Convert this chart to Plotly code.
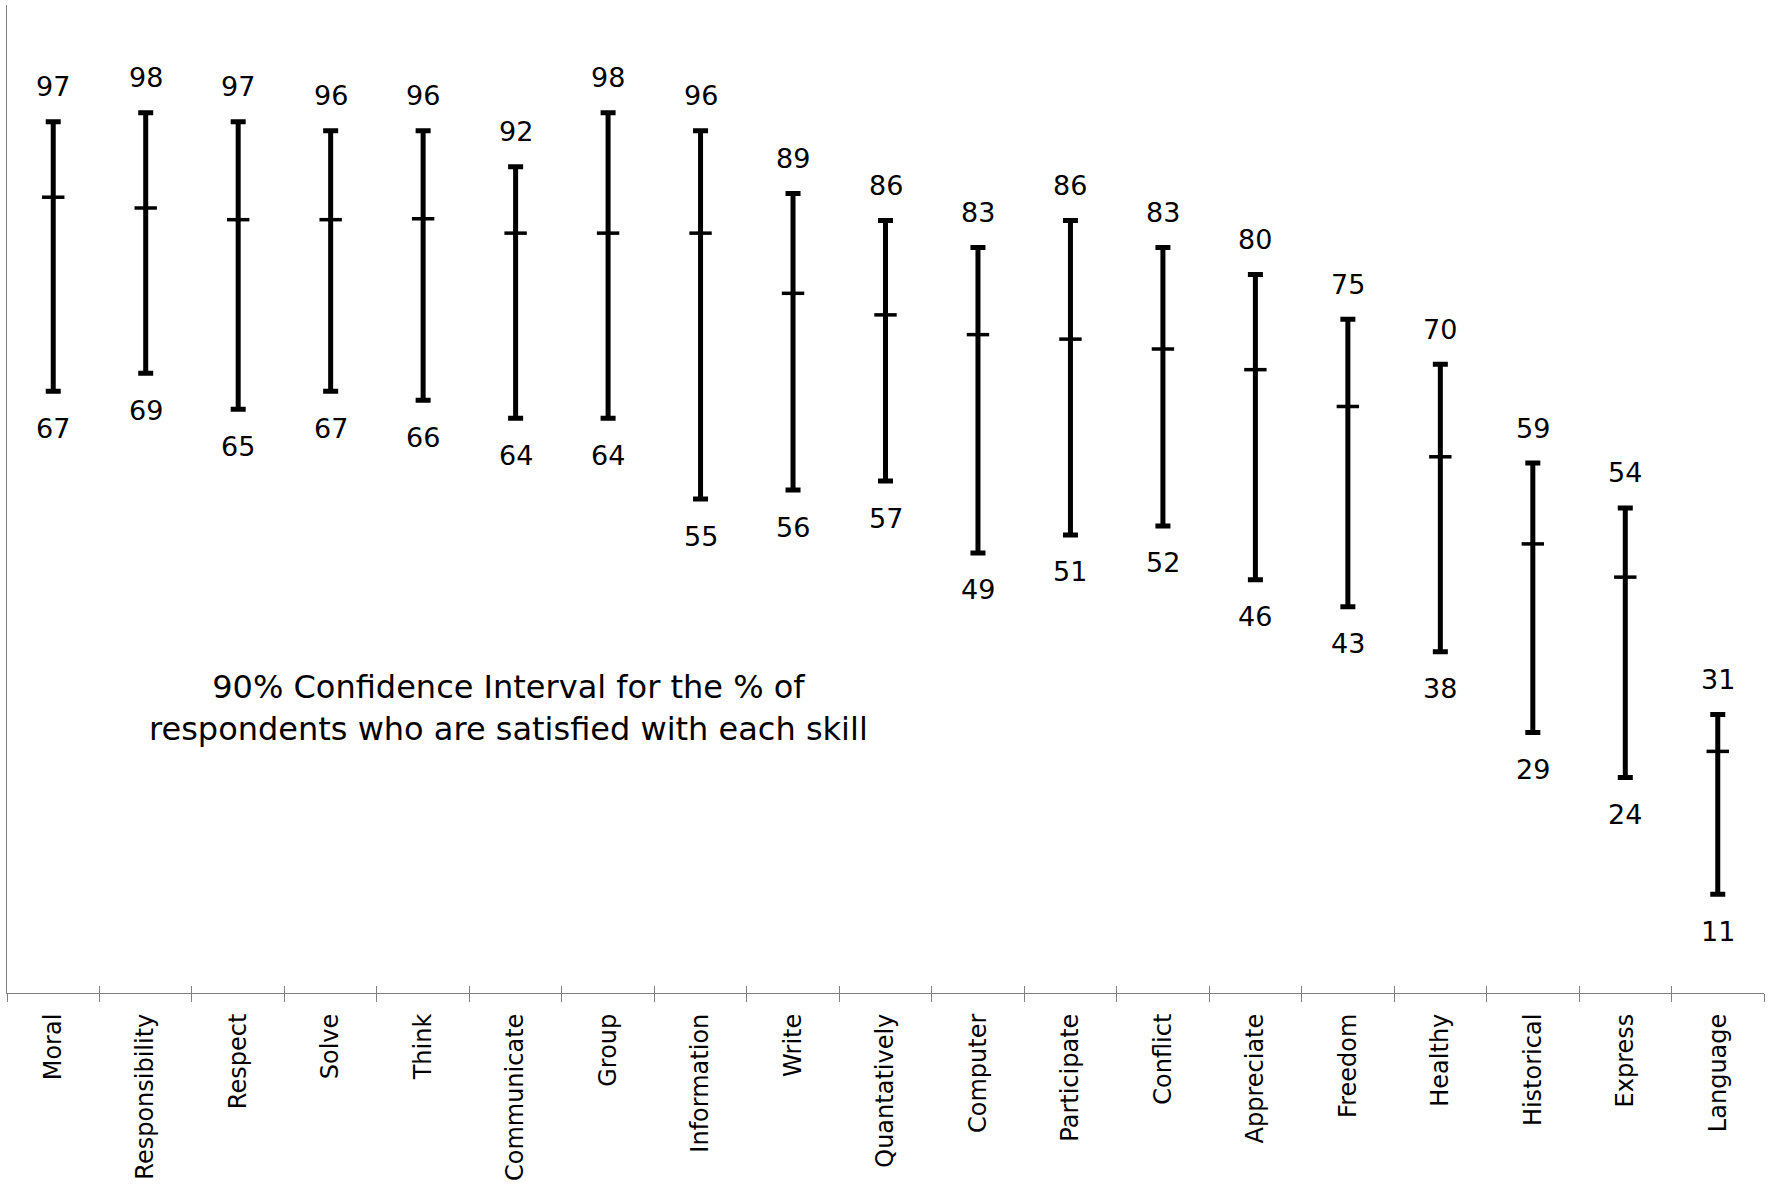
import plotly.graph_objects as go

# Skills, ordered as on the axis
skills = ["Moral", "Responsibility", "Respect", "Solve", "Think", "Communicate",
          "Group", "Information", "Write", "Quantatively", "Computer", "Participate",
          "Conflict", "Appreciate", "Freedom", "Healthy", "Historical", "Express",
          "Language"]

# 90% confidence interval bounds (% satisfied)
upper = [97, 98, 97, 96, 96, 92, 98, 96, 89, 86, 83, 86, 83, 80, 75, 70, 59, 54, 31]
lower = [67, 69, 65, 67, 66, 64, 64, 55, 56, 57, 49, 51, 52, 46, 43, 38, 29, 24, 11]

# Point estimate marked on each interval
estimate = [88.6, 87.4, 86.1, 86.1, 86.2, 84.6, 84.6, 84.6, 77.9, 75.5, 73.3, 72.8,
            71.7, 69.4, 65.3, 59.7, 50.0, 46.3, 26.9]

FONT = "Verdana, 'DejaVu Sans', sans-serif"
AXIS_GREY = "#7f7f7f"

err_plus = [u - e for u, e in zip(upper, estimate)]
err_minus = [e - l for e, l in zip(estimate, lower)]

fig = go.Figure()

fig.add_trace(go.Scatter(
    x=skills, y=estimate, mode="markers",
    marker=dict(symbol="line-ew", size=16, color="black",
                line=dict(color="black", width=3.5)),
    error_y=dict(type="data", symmetric=False, array=err_plus,
                 arrayminus=err_minus, color="black", thickness=5, width=7.5),
    showlegend=False, hoverinfo="skip",
))

# Invisible trace carrying the overlay axis that draws the upward half of the ticks
fig.add_trace(go.Scatter(
    x=skills, y=estimate, mode="markers", xaxis="x2",
    marker=dict(opacity=0), showlegend=False, hoverinfo="skip",
))

annotations = []
for s, u, l in zip(skills, upper, lower):
    annotations.append(dict(x=s, y=u, text=str(u), showarrow=False,
                            yanchor="middle", yshift=35,
                            font=dict(family=FONT, size=27, color="black")))
    annotations.append(dict(x=s, y=l, text=str(l), showarrow=False,
                            yanchor="middle", yshift=-37,
                            font=dict(family=FONT, size=27, color="black")))

annotations.append(dict(
    x=0.2857, y=0.288, xref="paper", yref="paper", showarrow=False,
    text="90% Confidence Interval for the % of<br>respondents who are satisfied with each skill",
    font=dict(family=FONT, size=32, color="black"), align="center",
    xanchor="center", yanchor="middle",
))

fig.update_layout(
    width=1774, height=1186,
    margin=dict(l=7, r=10, t=5, b=193),
    paper_bgcolor="white", plot_bgcolor="white",
    annotations=annotations,
    xaxis=dict(
        type="category", categoryorder="array", categoryarray=skills,
        range=[-0.5, len(skills) - 0.5],
        showline=True, linecolor=AXIS_GREY, linewidth=1.2,
        ticks="outside", tickson="boundaries", ticklen=8, tickwidth=1.2,
        tickcolor=AXIS_GREY, tickangle=-90, ticklabelstandoff=10,
        tickfont=dict(family=FONT, size=24, color="black"),
        showgrid=False, zeroline=False,
    ),
    xaxis2=dict(
        type="category", categoryorder="array", categoryarray=skills,
        range=[-0.5, len(skills) - 0.5], overlaying="x", anchor="y",
        ticks="inside", tickson="boundaries", ticklen=7, tickwidth=1.2,
        tickcolor=AXIS_GREY, showticklabels=False, showline=False,
        showgrid=False, zeroline=False,
    ),
    yaxis=dict(
        range=[0, 110], showline=True, linecolor=AXIS_GREY, linewidth=1.2,
        ticks="", showticklabels=False, showgrid=False, zeroline=False,
    ),
)

fig.write_html("out.html")
